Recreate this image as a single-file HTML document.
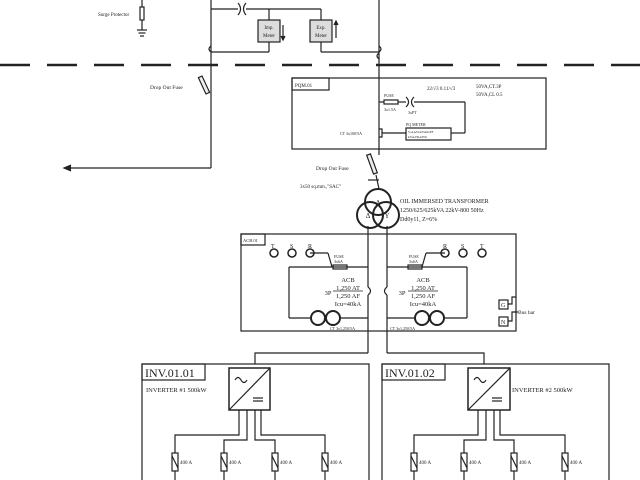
<!DOCTYPE html>
<html><head><meta charset="utf-8"><style>
html,body{margin:0;padding:0;background:#fff;}
svg{display:block;font-family:"Liberation Serif",serif;}
</style></head><body>
<svg width="640" height="480" viewBox="0 0 640 480" xmlns="http://www.w3.org/2000/svg" stroke="#222" fill="none" stroke-width="1.2">
<!-- top section -->
<line x1="211" y1="0" x2="211" y2="95"/>
<line x1="379" y1="0" x2="379" y2="155"/>
<line x1="211" y1="9" x2="238" y2="9"/><line x1="246" y1="9" x2="321" y2="9"/>
<path d="M238 3 Q243 9 238 15 M246 3 Q241 9 246 15"/>
<line x1="269" y1="9" x2="269" y2="20"/><line x1="321" y1="9" x2="321" y2="20"/>
<rect x="258" y="20" width="22" height="22" fill="#ddd"/>
<rect x="310" y="20" width="22" height="22" fill="#ddd"/>
<text x="269" y="29" font-size="5" text-anchor="middle" fill="#222" stroke="none">Imp.</text>
<text x="269" y="37" font-size="5" text-anchor="middle" fill="#222" stroke="none">Meter</text>
<text x="321" y="29" font-size="5" text-anchor="middle" fill="#222" stroke="none">Exp.</text>
<text x="321" y="37" font-size="5" text-anchor="middle" fill="#222" stroke="none">Meter</text>
<line x1="283" y1="25" x2="283" y2="39"/><path d="M281 36 L283 40 L285 36" fill="#222"/>
<line x1="336" y1="22" x2="336" y2="38"/><path d="M334 25 L336 21 L338 25" fill="#222"/>
<line x1="269" y1="42" x2="269" y2="52"/><line x1="321" y1="42" x2="321" y2="52"/>
<line x1="211" y1="52" x2="269" y2="52"/><line x1="321" y1="52" x2="379" y2="52"/>
<path d="M211 46 Q207 49 211 52 M379 46 Q383 49 379 52 M379 53 Q375 56 379 59"/>
<!-- surge protector -->
<line x1="142" y1="0" x2="142" y2="30"/>
<rect x="140" y="7" width="4" height="13" fill="#fff"/>
<line x1="137" y1="30" x2="147" y2="30"/><line x1="138.5" y1="33" x2="145.5" y2="33"/><line x1="140" y1="36" x2="144" y2="36"/>
<text x="98" y="16" font-size="5" fill="#222" stroke="none">Surge Protector</text>
<!-- dashed -->
<line x1="0" y1="65" x2="640" y2="65" stroke-width="2.5" stroke-dasharray="30,17"/>
<!-- left drop fuse -->
<rect x="202" y="76" width="4" height="18" transform="rotate(-25 204 85)" fill="#eee"/>
<text x="150" y="89" font-size="5.5" fill="#222" stroke="none">Drop Out Fuse</text>
<line x1="211" y1="95" x2="211" y2="168"/><line x1="211" y1="168" x2="66" y2="168"/>
<path d="M71 165 L64 168 L71 171" fill="#222"/>
<!-- PQM -->
<rect x="292" y="78" width="254" height="71"/>
<rect x="292" y="78" width="37" height="12"/>
<text x="295" y="87" font-size="5" fill="#222" stroke="none">PQM.01</text>
<line x1="379" y1="102" x2="384" y2="102"/>
<rect x="384" y="100" width="14" height="4"/>
<text x="384" y="97" font-size="4" fill="#222" stroke="none">FUSE</text>
<text x="384" y="111" font-size="4" fill="#222" stroke="none">3x1.5A</text>
<line x1="398" y1="102" x2="406" y2="102"/>
<path d="M406 97 Q411 102 406 107 M414 97 Q409 102 414 107"/>
<line x1="414" y1="102" x2="465" y2="102"/><line x1="465" y1="102" x2="465" y2="133"/><line x1="465" y1="133" x2="451" y2="133"/>
<text x="408" y="114" font-size="4" fill="#222" stroke="none">3xPT</text>
<text x="427" y="90" font-size="5" fill="#222" stroke="none">22/√3 0.11/√3</text>
<text x="476" y="88" font-size="5" fill="#222" stroke="none">50VA,CT.3P</text>
<text x="476" y="96" font-size="5" fill="#222" stroke="none">50VA,CL 0.5</text>
<rect x="406" y="128" width="45" height="12"/>
<text x="406" y="126" font-size="4" fill="#222" stroke="none">PQ METER</text>
<text x="408" y="133" font-size="3.5" fill="#222" stroke="none">V,A,kW,kVAR,PF</text>
<text x="408" y="138" font-size="3.5" fill="#222" stroke="none">kVA,Hz,kWh</text>
<path d="M379 129 L382 129 L382 137 L379 137"/><line x1="382" y1="133" x2="406" y2="133"/>
<text x="340" y="135" font-size="4" fill="#222" stroke="none">CT 3x100/5A</text>
<!-- drop fuse 2 -->
<rect x="370" y="154" width="4" height="20" transform="rotate(-20 372 164)" fill="#eee"/>
<text x="316" y="170" font-size="5.5" fill="#222" stroke="none">Drop Out Fuse</text>
<line x1="376" y1="175" x2="379" y2="189"/>
<line x1="368" y1="180" x2="379" y2="180"/>
<text x="300" y="188" font-size="5" fill="#222" stroke="none">3x50 sq.mm.,"SAC"</text>
<!-- transformer -->
<circle cx="378" cy="202" r="13" stroke-width="2"/>
<circle cx="370" cy="215" r="13" stroke-width="2"/>
<circle cx="386" cy="215" r="13" stroke-width="2"/>
<text x="378" y="205" font-size="7" text-anchor="middle" fill="#222" stroke="none">Δ</text>
<text x="368" y="218" font-size="7" text-anchor="middle" fill="#222" stroke="none">Δ</text>
<text x="387" y="218" font-size="7" text-anchor="middle" fill="#222" stroke="none">Y</text>
<text x="400" y="203" font-size="6" fill="#222" stroke="none">OIL IMMERSED TRANSFORMER</text>
<text x="400" y="212" font-size="6" fill="#222" stroke="none">1250/625/625kVA 22kV-800 50Hz</text>
<text x="400" y="221" font-size="6" fill="#222" stroke="none">Dd0y11, Z=6%</text>
<!-- ACB -->
<line x1="368" y1="226" x2="368" y2="287"/><path d="M368 287 Q373 291 368 295"/><line x1="368" y1="295" x2="368" y2="353"/>
<line x1="387" y1="226" x2="387" y2="287"/><path d="M387 287 Q382 291 387 295"/><line x1="387" y1="295" x2="387" y2="353"/>
<rect x="241" y="234" width="275" height="97"/>
<rect x="241" y="234" width="24" height="11"/>
<text x="243" y="242" font-size="4.5" fill="#222" stroke="none">ACB.01</text>
<g fill="#222" stroke="none" font-size="6">
<text x="271" y="248">T</text><text x="290" y="248">S</text><text x="308" y="248">R</text>
<text x="443" y="248">R</text><text x="461" y="248">S</text><text x="480" y="248">T</text>
</g>
<g stroke-width="1.5">
<circle cx="274" cy="253" r="4"/><circle cx="292" cy="253" r="4"/><circle cx="310" cy="253" r="4"/>
<circle cx="445" cy="253" r="4"/><circle cx="463" cy="253" r="4"/><circle cx="482" cy="253" r="4"/>
</g>
<line x1="310" y1="253" x2="328" y2="253"/><line x1="328" y1="253" x2="332" y2="267"/>
<line x1="445" y1="253" x2="426" y2="253"/><line x1="426" y1="253" x2="422" y2="267"/>
<rect x="333" y="265" width="14" height="4"/><rect x="408" y="265" width="14" height="4"/>
<text x="334" y="258" font-size="4" fill="#222" stroke="none">FUSE</text><text x="334" y="263" font-size="4" fill="#222" stroke="none">3x6A</text>
<text x="409" y="258" font-size="4" fill="#222" stroke="none">FUSE</text><text x="409" y="263" font-size="4" fill="#222" stroke="none">3x6A</text>
<line x1="289" y1="267" x2="368" y2="267"/><line x1="289" y1="267" x2="289" y2="318"/><line x1="289" y1="318" x2="368" y2="318"/>
<line x1="387" y1="267" x2="467" y2="267"/><line x1="467" y1="267" x2="467" y2="318"/><line x1="387" y1="318" x2="467" y2="318"/>
<g stroke-width="2" fill="#fff"><circle cx="318" cy="318" r="7"/><circle cx="333" cy="318" r="7"/><circle cx="422" cy="318" r="7"/><circle cx="437" cy="318" r="7"/></g>
<g fill="#222" stroke="none" font-size="6.5" text-anchor="middle">
<text x="348" y="282">ACB</text><text x="348" y="290">1,250 AT</text><text x="348" y="298">1,250 AF</text><text x="348" y="306">Icu=40kA</text>
<text x="423" y="282">ACB</text><text x="423" y="290">1,250 AT</text><text x="423" y="298">1,250 AF</text><text x="423" y="306">Icu=40kA</text>
<text x="328" y="295">3P</text><text x="402" y="295">3P</text>
</g>
<line x1="333" y1="291" x2="363" y2="291" stroke-width="0.8"/><line x1="408" y1="291" x2="438" y2="291" stroke-width="0.8"/>
<text x="330" y="330" font-size="4" fill="#222" stroke="none">CT 3x1,250/5A</text>
<text x="390" y="330" font-size="4" fill="#222" stroke="none">CT 3x1,250/5A</text>
<rect x="499" y="300" width="9" height="9"/><rect x="499" y="317" width="9" height="9"/>
<text x="501" y="307" font-size="6" fill="#222" stroke="none">G</text><text x="501" y="324" font-size="6" fill="#222" stroke="none">N</text>
<path d="M508 304 L512 304 L512 297 L516 297 M508 321 L512 321 L512 312 L518 312"/>
<text x="518" y="314" font-size="5.5" fill="#222" stroke="none">Bus bar</text>
<!-- feeders -->
<path d="M368 353 L255 353 L255 364 M387 353 L484 353 L484 364"/>
<!-- INV 1 -->
<rect x="142" y="364" width="227" height="130"/>
<rect x="142" y="364" width="63" height="16"/>
<text x="145" y="377" font-size="12" fill="#222" stroke="none">INV.01.01</text>
<text x="146" y="392" font-size="6.5" fill="#222" stroke="none">INVERTER #1 500kW</text>
<rect x="229" y="368" width="41" height="42" stroke-width="1.5"/>
<line x1="229" y1="410" x2="270" y2="368"/>
<path d="M235 380 q3 -5 6 0 q3 5 6 0"/>
<line x1="253" y1="398" x2="263" y2="398"/><line x1="253" y1="401" x2="263" y2="401"/>
<path d="M239 410 L239 435 L175 435 L175 453 M247 410 L247 440 L224 440 L224 453 M255 410 L255 440 L275 440 L275 453 M261 410 L261 435 L325 435 L325 453"/>
<!-- INV 2 -->
<rect x="382" y="364" width="227" height="130"/>
<rect x="382" y="364" width="63" height="16"/>
<text x="385" y="377" font-size="12" fill="#222" stroke="none">INV.01.02</text>
<text x="512" y="392" font-size="6.5" fill="#222" stroke="none">INVERTER #2  500kW</text>
<rect x="468" y="368" width="42" height="42" stroke-width="1.5"/>
<line x1="468" y1="410" x2="510" y2="368"/>
<path d="M474 380 q3 -5 6 0 q3 5 6 0"/>
<line x1="492" y1="398" x2="502" y2="398"/><line x1="492" y1="401" x2="502" y2="401"/>
<path d="M478 410 L478 435 L414 435 L414 453 M486 410 L486 440 L464 440 L464 453 M494 410 L494 440 L514 440 L514 453 M500 410 L500 435 L565 435 L565 453"/>
<!-- fuses -->
<g>
<rect x="172" y="453" width="6" height="18"/><line x1="172" y1="456" x2="178" y2="468"/><line x1="175" y1="471" x2="175" y2="480"/>
<rect x="221" y="453" width="6" height="18"/><line x1="221" y1="456" x2="227" y2="468"/><line x1="224" y1="471" x2="224" y2="480"/>
<rect x="272" y="453" width="6" height="18"/><line x1="272" y1="456" x2="278" y2="468"/><line x1="275" y1="471" x2="275" y2="480"/>
<rect x="322" y="453" width="6" height="18"/><line x1="322" y1="456" x2="328" y2="468"/><line x1="325" y1="471" x2="325" y2="480"/>
<rect x="411" y="453" width="6" height="18"/><line x1="411" y1="456" x2="417" y2="468"/><line x1="414" y1="471" x2="414" y2="480"/>
<rect x="461" y="453" width="6" height="18"/><line x1="461" y1="456" x2="467" y2="468"/><line x1="464" y1="471" x2="464" y2="480"/>
<rect x="511" y="453" width="6" height="18"/><line x1="511" y1="456" x2="517" y2="468"/><line x1="514" y1="471" x2="514" y2="480"/>
<rect x="562" y="453" width="6" height="18"/><line x1="562" y1="456" x2="568" y2="468"/><line x1="565" y1="471" x2="565" y2="480"/>
</g>
<g fill="#222" stroke="none" font-size="5">
<text x="180" y="464">400 A</text><text x="229" y="464">400 A</text><text x="280" y="464">400 A</text><text x="330" y="464">400 A</text>
<text x="419" y="464">400 A</text><text x="469" y="464">400 A</text><text x="519" y="464">400 A</text><text x="570" y="464">400 A</text>
</g>
</svg>
</body></html>
